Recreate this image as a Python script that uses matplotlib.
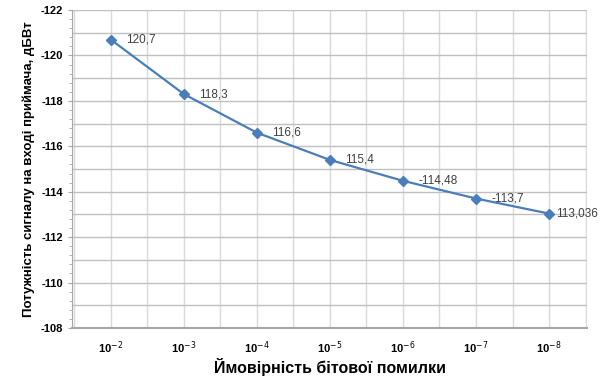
import numpy as np
import matplotlib.pyplot as plt
from matplotlib.ticker import MultipleLocator

# bit error probability categories and received power
ber_labels = ['10$^{-2}$', '10$^{-3}$', '10$^{-4}$', '10$^{-5}$', '10$^{-6}$', '10$^{-7}$', '10$^{-8}$']
power_dbw = [-120.7, -118.3, -116.6, -115.4, -114.48, -113.7, -113.036]
point_labels = ['120,7', '118,3', '116,6', '115,4', '-114,48', '-113,7', '113,036']

plt.rcParams['font.family'] = ['Liberation Sans', 'DejaVu Sans']
plt.rcParams['axes.unicode_minus'] = False

fig = plt.figure(figsize=(6.01, 3.78), dpi=100)
ax = fig.add_axes([0.1198, 0.1323, 0.857, 0.8412])

x = np.arange(len(power_dbw))
ax.plot(x, power_dbw, color='#4a7ebb', linewidth=1.6, marker='D', markersize=5,
        zorder=3)
for i, (xi, yi, txt) in enumerate(zip(x, power_dbw, point_labels)):
    # last label sits closer to its point so it stays inside the figure
    dx = 5 if i == len(x) - 1 else 11
    ax.annotate(txt, (xi, yi), xytext=(dx, 0), textcoords='offset points',
                va='center', ha='left', fontsize=8.5, color='#404040')

ax.set_xlim(-0.53, len(x) - 0.48)
ax.set_ylim(-108, -122)

ax.set_xticks(x)
ax.set_xticklabels(ber_labels, fontsize=8, fontweight='bold')
ax.set_xticks(np.arange(-0.5, len(x), 0.5), minor=True)
ax.yaxis.set_major_locator(MultipleLocator(2))
ax.yaxis.set_minor_locator(MultipleLocator(0.4))
ax.tick_params(axis='y', which='major', labelsize=8, length=3, color='#a6a6a6')
ax.tick_params(axis='y', which='minor', length=2, color='#a6a6a6')
ax.tick_params(axis='x', which='both', length=0, pad=8)
for lab in ax.get_yticklabels():
    lab.set_fontweight('bold')

# grid lines
ax.grid(axis='x', which='both', color='#d9d9d9', linewidth=1)
for yv in np.arange(-122, -107, 1):
    ax.axhline(yv, color='#c0c0c0', linewidth=1, zorder=1)
ax.set_axisbelow(True)

for side in ['top', 'right']:
    ax.spines[side].set_visible(False)
ax.spines['left'].set_color('#a6a6a6')
ax.spines['bottom'].set_color('#a6a6a6')
ax.spines['bottom'].set_linewidth(1.5)

ax.set_xlabel('Ймовірність бітової помилки', fontsize=11.5, fontweight='bold', labelpad=2)
ax.set_ylabel('Потужність сигналу на вході приймача, дБВт', fontsize=9.5,
              fontweight='bold', labelpad=4)

fig.savefig('out.png', dpi=100)
